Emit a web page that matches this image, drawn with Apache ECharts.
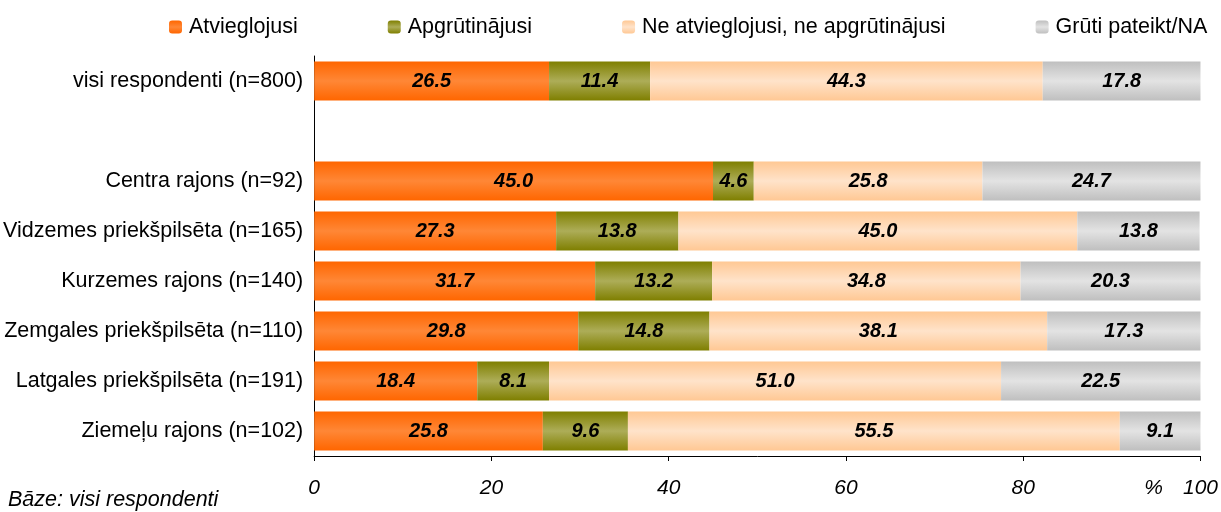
<!DOCTYPE html>
<html>
<head>
<meta charset="utf-8">
<script src="https://cdn.jsdelivr.net/npm/echarts@6/dist/echarts.min.js"></script>
<style>
  html, body { margin: 0; padding: 0; background: #fff; }
  #chart_main { width: 1221px; height: 512px; }
</style>
</head>
<body>
<div id="chart_main"></div>
<script>
  // kategorijas no augšas uz leju ('' = tukšā rinda)
  let categories = [
    'visi respondenti (n=800)',
    '',
    'Centra rajons (n=92)',
    'Vidzemes priekšpilsēta (n=165)',
    'Kurzemes rajons (n=140)',
    'Zemgales priekšpilsēta (n=110)',
    'Latgales priekšpilsēta (n=191)',
    'Ziemeļu rajons (n=102)'
  ]
  let atvieglojusi = [26.5, '-', 45.0, 27.3, 31.7, 29.8, 18.4, 25.8]
  let apgrutinajusi = [11.4, '-', 4.6, 13.8, 13.2, 14.8, 8.1, 9.6]
  let neitrali = [44.3, '-', 25.8, 45.0, 34.8, 38.1, 51.0, 55.5]
  let grutiPateikt = [17.8, '-', 24.7, 13.8, 20.3, 17.3, 22.5, 9.1]
  let seriesNames = ['Atvieglojusi', 'Apgrūtinājusi', 'Ne atvieglojusi, ne apgrūtinājusi', 'Grūti pateikt/NA']
  let xTicks = [0, 20, 40, 60, 80, 100]

  let font = "'Liberation Sans', Arial, sans-serif"

  function grad (edge, mid) {
    return new echarts.graphic.LinearGradient(0, 0, 0, 1, [
      {offset: 0, color: edge},
      {offset: 0.5, color: mid},
      {offset: 1, color: edge}
    ])
  }

  let colors = [
    grad('#ff6600', '#ff8736'),
    grad('#7f7f00', '#adad58'),
    grad('#ffc894', '#ffe3ca'),
    grad('#bfbfbf', '#e3e3e3')
  ]

  function makeSeries (name, data, color) {
    return {
      name: name,
      type: 'bar',
      stack: 'total',
      barWidth: 39,
      data: data,
      itemStyle: {color: color},
      label: {
        show: true,
        position: 'inside',
        color: '#000',
        fontFamily: font,
        fontSize: 20,
        fontWeight: 'bold',
        fontStyle: 'italic',
        formatter: function (p) { return Number(p.value).toFixed(1) }
      }
    }
  }

  let chart = echarts.init(document.getElementById('chart_main'))
  let options = {
    animation: false,
    textStyle: {fontFamily: font},
    legend: {
      left: 164,
      top: 11,
      itemWidth: 13,
      itemHeight: 13,
      itemGap: 90,
      textStyle: {fontFamily: font, fontSize: 21.5, color: '#000', padding: [0, 0, 0, 2]},
      data: seriesNames
    },
    grid: {left: 314, right: 19, top: 56, bottom: 56, containLabel: false},
    xAxis: {
      type: 'value',
      min: 0,
      max: 100,
      interval: 20,
      name: '%',
      nameLocation: 'end',
      nameGap: -47,
      nameTextStyle: {
        fontFamily: font, fontSize: 21, fontStyle: 'italic', color: '#000',
        align: 'center', verticalAlign: 'top', padding: [22, 0, 0, 0]
      },
      splitLine: {show: false},
      axisLine: {show: true, lineStyle: {color: '#000', width: 1}},
      axisTick: {show: true, length: 5, lineStyle: {color: '#000'}},
      axisLabel: {
        margin: 22,
        fontFamily: font,
        fontSize: 21,
        fontStyle: 'italic',
        color: '#000',
        customValues: xTicks
      }
    },
    yAxis: {
      type: 'category',
      inverse: true,
      data: categories,
      axisLine: {show: true, lineStyle: {color: '#000', width: 1}},
      axisTick: {show: false},
      axisLabel: {margin: 11, fontFamily: font, fontSize: 21.5, color: '#000'}
    },
    graphic: [{
      type: 'text',
      left: 8,
      top: 489,
      style: {text: 'Bāze: visi respondenti', font: 'italic 21.5px ' + font, fill: '#000'}
    }],
    series: [
      makeSeries(seriesNames[0], atvieglojusi, colors[0]),
      makeSeries(seriesNames[1], apgrutinajusi, colors[1]),
      makeSeries(seriesNames[2], neitrali, colors[2]),
      makeSeries(seriesNames[3], grutiPateikt, colors[3])
    ]
  }
  chart.setOption(options)
</script>
</body>
</html>
